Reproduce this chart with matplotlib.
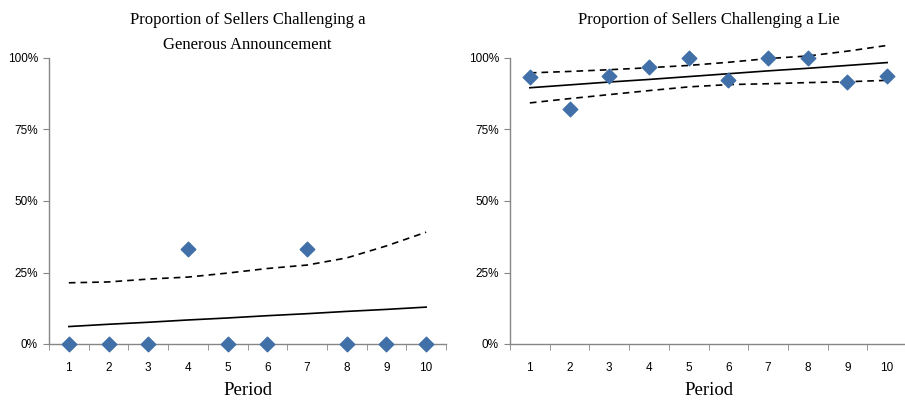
import matplotlib
matplotlib.use("Agg")
import matplotlib.pyplot as plt
from matplotlib.ticker import FixedLocator, PercentFormatter

periods = [1, 2, 3, 4, 5, 6, 7, 8, 9, 10]

# Generous announcements: observed share challenged, fitted trend, upper bound
generous_obs = [0, 0, 0, 33.3, 0, 0, 33.3, 0, 0, 0]
generous_fit = [6.1, 6.9, 7.6, 8.4, 9.1, 9.9, 10.6, 11.4, 12.1, 12.9]
generous_upper = [21.4, 21.7, 22.7, 23.4, 24.8, 26.4, 27.6, 30.1, 34.3, 39.1]

# Lies: observed share challenged, fitted trend, confidence band
lie_obs = [93.3, 82.1, 93.8, 96.7, 100, 92.3, 100, 100, 91.7, 93.8]
lie_fit = [89.6, 90.6, 91.6, 92.5, 93.5, 94.5, 95.5, 96.4, 97.4, 98.4]
lie_upper = [94.8, 95.3, 95.9, 96.6, 97.4, 98.5, 99.8, 100.7, 102.4, 104.4]
lie_lower = [84.3, 85.8, 87.2, 88.6, 89.9, 90.7, 91.0, 91.4, 91.7, 92.2]

y_ticks = [0, 25, 50, 75, 100]

MARKER_COLOR = "#4170A8"
AXIS_COLOR = "#868686"
SERIF = "Liberation Serif"
SANS = "Liberation Sans"

fig = plt.figure(figsize=(9.05, 4.03), dpi=100)
ax_l = fig.add_axes([49 / 905, 1 - 344 / 403, 397 / 905, 286 / 403])
ax_r = fig.add_axes([510 / 905, 1 - 344 / 403, 397 / 905, 286 / 403])


def style(ax, title, title_y):
    ax.set_xlim(0.5, 10.5)
    ax.set_ylim(0, 100)
    for s in ("top", "right"):
        ax.spines[s].set_visible(False)
    for s in ("left", "bottom"):
        ax.spines[s].set_color(AXIS_COLOR)
        ax.spines[s].set_linewidth(1.0)
    ax.yaxis.set_major_locator(FixedLocator(y_ticks))
    ax.yaxis.set_major_formatter(PercentFormatter(decimals=0))
    # category labels centred, tick marks between categories
    ax.set_xticks(periods)
    ax.set_xticklabels([str(p) for p in periods])
    ax.set_xticks([p + 0.5 for p in [0] + periods], minor=True)
    ax.tick_params(axis="x", which="major", length=0, pad=13, labelsize=8.5)
    ax.tick_params(axis="x", which="minor", length=4, color=AXIS_COLOR, direction="out")
    ax.tick_params(axis="y", length=4, color=AXIS_COLOR, direction="out", pad=4, labelsize=8.5)
    for lab in ax.get_xticklabels() + ax.get_yticklabels():
        lab.set_fontfamily(SANS)
    ax.set_xlabel("Period", fontfamily=SERIF, fontsize=13.5, labelpad=6)
    ax.set_title(title, fontfamily=SERIF, fontsize=12, y=title_y, va="center",
                 linespacing=1.75)


# left panel
ax_l.plot(periods, generous_fit, color="black", lw=1.2, clip_on=False)
ax_l.plot(periods, generous_upper, color="black", lw=1.2, ls=(0, (4, 3)), clip_on=False)
ax_l.scatter(periods, generous_obs, marker="D", s=55, color=MARKER_COLOR, zorder=5, clip_on=False)
style(ax_l, "Proportion of Sellers Challenging a\nGenerous Announcement", (344 - 41) / 286)

# right panel
ax_r.plot(periods, lie_fit, color="black", lw=1.2, clip_on=False)
ax_r.plot(periods, lie_upper, color="black", lw=1.2, ls=(0, (4, 3)), clip_on=False)
ax_r.plot(periods, lie_lower, color="black", lw=1.2, ls=(0, (4, 3)), clip_on=False)
ax_r.scatter(periods, lie_obs, marker="D", s=55, color=MARKER_COLOR, zorder=5, clip_on=False)
style(ax_r, "Proportion of Sellers Challenging a Lie", (344 - 28) / 286)

fig.savefig("out.png", dpi=100)
